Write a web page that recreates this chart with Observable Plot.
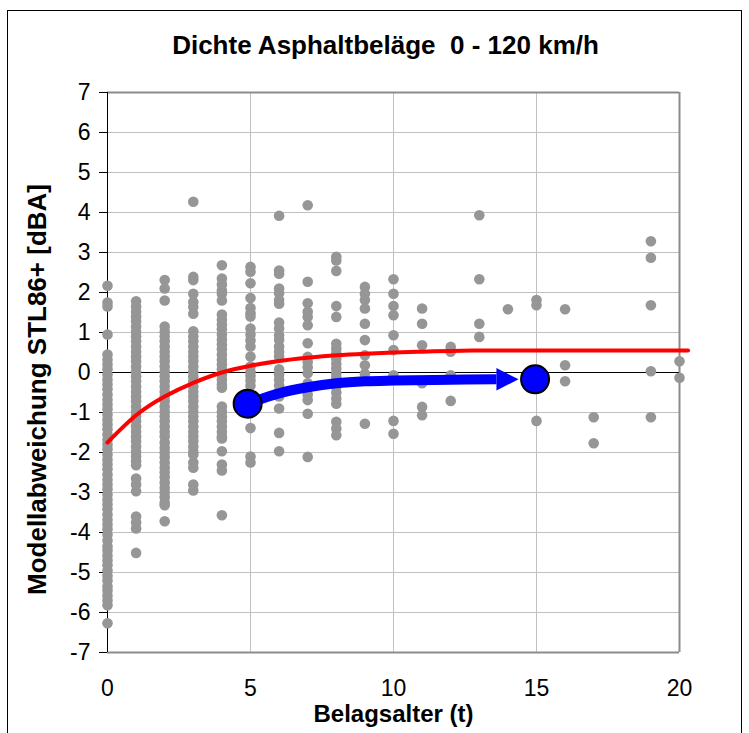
<!DOCTYPE html>
<html>
<head>
<meta charset="utf-8">
<script src="https://cdn.jsdelivr.net/npm/d3@7"></script>
<script src="https://cdn.jsdelivr.net/npm/@observablehq/plot@0.6"></script>
<style>
  html, body { margin: 0; padding: 0; background: #fff; }
  #wrap { position: relative; width: 749px; height: 733px; overflow: hidden; }
  #border { position: absolute; left: 7px; top: 10px; width: 733px; height: 800px; border: 1px solid #000; pointer-events: none; }
</style>
</head>
<body>
<div id="wrap"><div id="border"></div></div>
<script>
const titleText = "Dichte Asphaltbeläge  0 - 120 km/h";
const xLabel = "Belagsalter (t)";
const yLabel = "Modellabweichung STL86+ [dBA]";
const xTicks = [0, 5, 10, 15, 20];
const yTicks = [-7, -6, -5, -4, -3, -2, -1, 0, 1, 2, 3, 4, 5, 6, 7];

// Measured values per pavement age (years)
const v0 = [2.17, 1.75, 1.65, 0.95, 0.45, 0.32, 0.2, 0.08, -0.05, -0.18, -0.3, -0.42, -0.55, -0.68, -0.8, -0.92, -1.05, -1.18, -1.3, -1.42, -1.55, -1.68, -1.8, -1.92, -2.05, -2.18, -2.3, -2.42, -2.55, -2.68, -2.8, -2.92, -3.05, -3.18, -3.3, -3.42, -3.55, -3.68, -3.8, -3.92, -4.05, -4.2, -4.35, -4.45, -4.58, -4.7, -4.82, -4.95, -5.08, -5.2, -5.35, -5.45, -5.58, -5.7, -5.82, -6.27];
const v1 = [1.78, 1.65, 1.52, 1.4, 1.28, 1.15, 1.02, 0.9, 0.78, 0.65, 0.52, 0.4, 0.28, 0.15, 0.02, -0.1, -0.22, -0.35, -0.48, -0.6, -0.72, -0.85, -0.98, -1.1, -1.22, -1.35, -1.48, -1.6, -1.72, -1.85, -1.98, -2.1, -2.22, -2.32, -2.65, -2.8, -2.97, -3.6, -3.75, -3.9, -4.51];
const v2 = [2.31, 2.1, 1.8, 1.15, 1.02, 0.9, 0.78, 0.65, 0.52, 0.4, 0.28, 0.15, 0.02, -0.1, -0.22, -0.35, -0.48, -0.6, -0.72, -0.85, -0.98, -1.1, -1.22, -1.35, -1.48, -1.6, -1.75, -1.88, -2.0, -2.12, -2.25, -2.38, -2.5, -2.62, -2.75, -2.88, -3.0, -3.12, -3.25, -3.32, -3.72];
const v3 = [4.27, 2.39, 2.31, 1.97, 1.76, 1.64, 1.47, 1.03, 0.9, 0.78, 0.65, 0.52, 0.4, 0.28, 0.15, 0.02, -0.1, -0.22, -0.35, -0.48, -0.6, -0.72, -0.85, -0.98, -1.1, -1.22, -1.35, -1.48, -1.6, -1.72, -1.85, -1.98, -2.05, -2.25, -2.38, -2.8, -2.95];
const v4 = [2.68, 2.35, 2.2, 2.05, 1.97, 1.8, 1.45, 1.32, 1.2, 1.08, 0.95, 0.82, 0.7, 0.58, 0.45, 0.32, 0.2, 0.08, -0.05, -0.18, -0.3, -0.38, -0.85, -0.98, -1.1, -1.22, -1.35, -1.48, -1.6, -1.65, -1.97, -2.3, -2.45, -3.57];
const v5 = [2.64, 2.52, 2.23, 1.86, 1.61, 1.48, 1.4, 1.1, 0.95, 0.8, 0.65, 0.4, 0.15, 0.02, -0.08, -0.2, -0.33, -0.6, -0.8, -1.0, -1.39, -2.1, -2.25];
const v6 = [3.92, 2.55, 2.47, 2.1, 1.98, 1.81, 1.72, 1.25, 1.1, 0.93, 0.82, 0.65, 0.52, 0.4, 0.08, -0.05, -0.18, -0.32, -0.46, -0.6, -0.9, -1.51, -1.97];
const v7 = [4.18, 2.27, 1.73, 1.52, 1.39, 1.18, 0.73, 0.39, 0.26, 0.13, -0.02, -0.27, -0.4, -0.55, -0.69, -1.03, -2.11];
const v8 = [2.89, 2.8, 2.54, 1.66, 1.39, 0.72, 0.6, 0.48, 0.35, 0.22, 0.1, -0.02, -0.11, -0.36, -0.5, -0.65, -0.78, -1.23, -1.4, -1.57];
const v9 = [2.14, 1.97, 1.81, 1.6, 1.22, 0.81, 0.43, 0.18, -0.03, -1.28];
const v10 = [2.33, 1.97, 1.66, 1.43, 0.93, 0.56, -0.07, -1.21, -1.53];
const v11 = [1.6, 1.22, 0.68, -0.27, -0.86, -1.07];
const v12 = [0.64, 0.52, -0.07, -0.71];
const v13 = [3.93, 2.33, 1.22, 0.89];
const v14 = [1.58];
const v15 = [1.81, 1.68, -1.21];
const v16 = [1.58, 0.18, -0.22];
const v17 = [-1.12, -1.77];
const v19 = [3.28, 2.87, 1.68, 0.03, -1.12];
const v20 = [0.28, -0.13];
const columnAges = [0, 1, 2, 3, 4, 5, 6, 7, 8, 9, 10, 11, 12, 13, 14, 15, 16, 17, 19, 20];
const columnValues = [v0, v1, v2, v3, v4, v5, v6, v7, v8, v9, v10, v11, v12, v13, v14, v15, v16, v17, v19, v20];

// Red model curve
const curveX = [0, 1, 2, 3, 4, 5, 6, 7, 8, 9, 10, 11, 12, 13, 14, 15, 16, 17, 18, 19, 20, 20.3];
const curveY = [-1.75, -1.07, -0.6, -0.26, 0.0, 0.17, 0.29, 0.37, 0.43, 0.47, 0.5, 0.52, 0.54, 0.55, 0.55, 0.55, 0.55, 0.55, 0.55, 0.55, 0.55, 0.55];

// Blue annotation: start / end markers and arrow path
const markerX = [4.9, 14.95];
const markerY = [-0.78, -0.17];
const arrowX = [4.9, 6, 7, 8, 9, 10, 12, 13.6];
const arrowY = [-0.78, -0.52, -0.37, -0.27, -0.22, -0.2, -0.18, -0.17];
const headX = [13.6, 14.37, 13.6];
const headY = [0.11, -0.17, -0.45];

const points = columnAges.flatMap((age, i) => columnValues[i].map(v => ({age, v})));
const curve = curveX.map((x, i) => ({x, y: curveY[i]}));
const arrow = arrowX.map((x, i) => ({x, y: arrowY[i]}));
const head = headX.map((x, i) => ({x, y: headY[i]}));
const markers = markerX.map((x, i) => ({x, y: markerY[i]}));

const chart = Plot.plot({
  width: 749,
  height: 733,
  marginLeft: 107,
  marginRight: 70,
  marginTop: 92,
  marginBottom: 81,
  style: {fontFamily: "'Liberation Sans', Arial, sans-serif", fontSize: "23px", background: "transparent", color: "#000"},
  x: {domain: [0, 20]},
  y: {domain: [-7, 7]},
  marks: [
    Plot.ruleY(yTicks.filter(d => d > -7 && d < 7), {stroke: "#c0c0c0", strokeWidth: 1}),
    Plot.ruleX(xTicks.filter(d => d > 0 && d < 20), {stroke: "#c0c0c0", strokeWidth: 1}),
    Plot.ruleY([7, -7], {stroke: "#8c8c8c", strokeWidth: 2}),
    Plot.ruleX([20], {stroke: "#8c8c8c", strokeWidth: 2}),
    Plot.ruleY([0], {stroke: "#000", strokeWidth: 1}),
    Plot.ruleX([0], {stroke: "#000", strokeWidth: 1}),
    Plot.axisY({ticks: yTicks, tickSize: 8, tickPadding: 9, tickFormat: d => String(d), label: null, fontSize: 23}),
    Plot.axisX({ticks: xTicks, tickSize: 0, tickPadding: 27, tickFormat: d => String(d), label: null, fontSize: 23}),
    Plot.dot(points, {x: "age", y: "v", r: 5.3, fill: "#969696", stroke: "none"}),
    Plot.line(curve, {x: "x", y: "y", stroke: "#ff0000", strokeWidth: 4, curve: "natural"}),
    Plot.line(arrow, {x: "x", y: "y", stroke: "#0000ff", strokeWidth: 10, curve: "monotone-x", strokeLinecap: "butt"}),
    Plot.line(head, {x: "x", y: "y", fill: "#0000ff", stroke: "none"}),
    Plot.dot(markers, {x: "x", y: "y", r: 14, fill: "#0000ff", stroke: "#000", strokeWidth: 2}),
    Plot.text([titleText], {frameAnchor: "top", dy: -47, dx: -8, fontSize: 26, fontWeight: "bold", textAnchor: "middle", lineAnchor: "middle"}),
    Plot.text([xLabel], {frameAnchor: "bottom", dy: 62, fontSize: 24, fontWeight: "bold", textAnchor: "middle", lineAnchor: "middle"}),
    Plot.text([yLabel], {frameAnchor: "left", dx: -69.5, dy: 17, rotate: -90, fontSize: 26, fontWeight: "bold", textAnchor: "middle", lineAnchor: "middle"})
  ]
});
chart.style.position = "absolute";
chart.style.left = "0";
chart.style.top = "0";
document.getElementById("wrap").appendChild(chart);
</script>
</body>
</html>
